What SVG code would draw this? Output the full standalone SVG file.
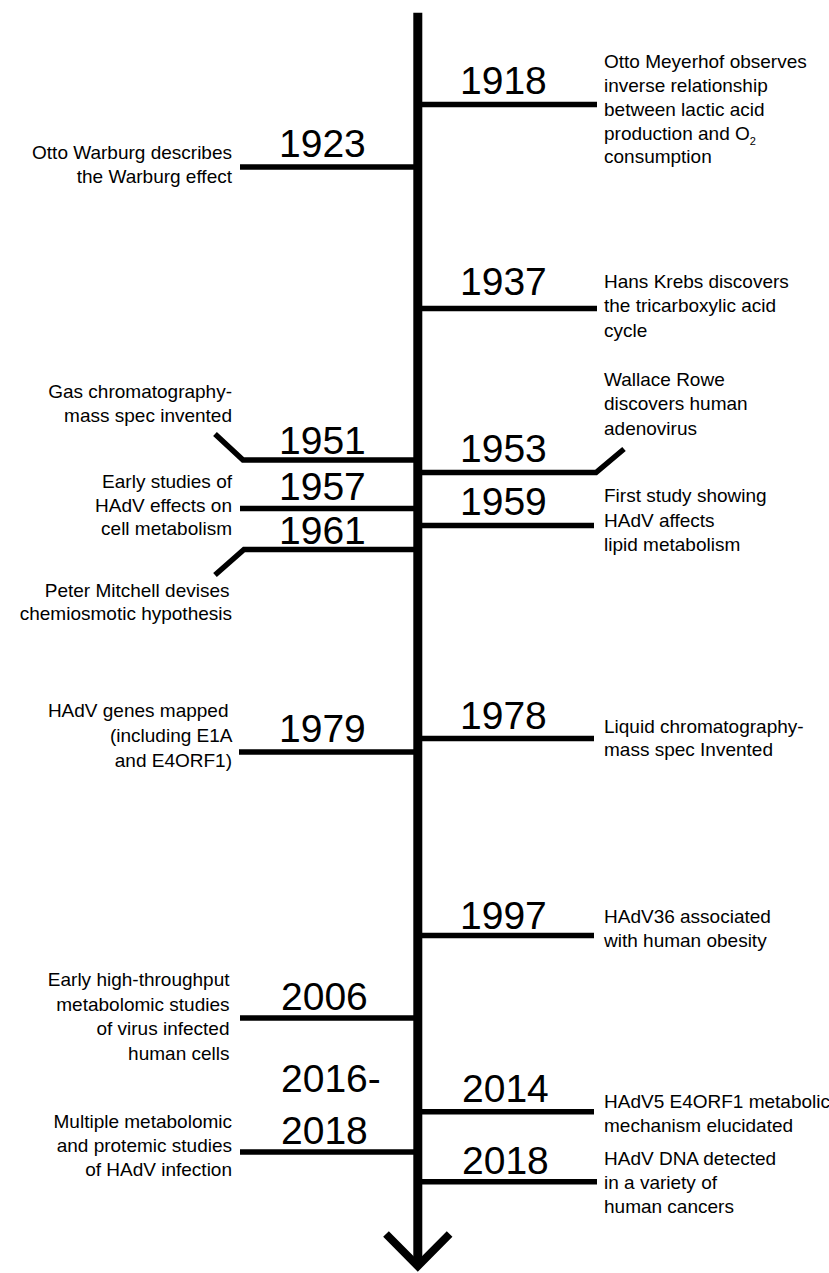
<svg xmlns="http://www.w3.org/2000/svg" width="829" height="1273" viewBox="0 0 829 1273">
<style>
.yr{font-family:"Liberation Sans",Arial,sans-serif;font-size:39px;fill:#000}
.lb{font-family:"Liberation Sans",Arial,sans-serif;font-size:19px;fill:#000}
.r{text-anchor:end}
.br{fill:none;stroke:#000;stroke-width:5.5;stroke-linejoin:miter}
.ax{fill:none;stroke:#000;stroke-width:9}
.ar{fill:none;stroke:#000;stroke-width:8;stroke-linejoin:miter;stroke-miterlimit:10}
</style>
<rect width="829" height="1273" fill="#fff"/>
<g id="connectors">
<line class="ax" x1="417.8" y1="12.7" x2="417.8" y2="1264"/>
<polyline class="ar" points="386,1234 417.8,1266 449.6,1234"/>
<path class="br" d="M418 104.5H597"/>
<path class="br" d="M240 167H418"/>
<path class="br" d="M418 308.5H597"/>
<path class="br" d="M215 434L243 460H418"/>
<path class="br" d="M418 472.5H596L624 449"/>
<path class="br" d="M240 508.5H418"/>
<path class="br" d="M418 525.5H594"/>
<path class="br" d="M215 575L244 549.5H418"/>
<path class="br" d="M418 738.5H594"/>
<path class="br" d="M239 752H418"/>
<path class="br" d="M418 935.5H594"/>
<path class="br" d="M240 1018H418"/>
<path class="br" d="M240 1152H418"/>
<path class="br" d="M418 1111.7H594"/>
<path class="br" d="M418 1181.7H597"/>
</g>
<g id="e1918">
<text class="yr" x="460" y="94">1918</text>
<text class="lb" x="604" y="68">Otto Meyerhof observes</text>
<text class="lb" x="604" y="92">inverse relationship</text>
<text class="lb" x="604" y="115.5">between lactic acid</text>
<text class="lb" x="604" y="139.5">production and O<tspan font-size="11" dy="5">2</tspan></text>
<text class="lb" x="604" y="163">consumption</text>
</g>
<g id="e1923">
<text class="yr" x="279" y="157">1923</text>
<text class="lb r" x="232" y="159">Otto Warburg describes</text>
<text class="lb r" x="232" y="183">the Warburg effect</text>
</g>
<g id="e1937">
<text class="yr" x="460" y="295">1937</text>
<text class="lb" x="604" y="287.5">Hans Krebs discovers</text>
<text class="lb" x="604" y="312">the tricarboxylic acid</text>
<text class="lb" x="604" y="336.5">cycle</text>
</g>
<g id="e1951">
<text class="yr" x="279" y="454">1951</text>
<text class="lb r" x="232" y="397.5">Gas chromatography-</text>
<text class="lb r" x="232" y="421.5">mass spec invented</text>
</g>
<g id="e1953">
<text class="yr" x="460" y="462">1953</text>
<text class="lb" x="604" y="385.5">Wallace Rowe</text>
<text class="lb" x="604" y="410">discovers human</text>
<text class="lb" x="604" y="434.5">adenovirus</text>
</g>
<g id="e1957">
<text class="yr" x="279" y="500">1957</text>
<text class="lb r" x="232" y="488">Early studies of</text>
<text class="lb r" x="232" y="511.5">HAdV effects on</text>
<text class="lb r" x="232" y="534.5">cell metabolism</text>
</g>
<g id="e1959">
<text class="yr" x="460" y="515">1959</text>
<text class="lb" x="604" y="502">First study showing</text>
<text class="lb" x="604" y="526.5">HAdV affects</text>
<text class="lb" x="604" y="551">lipid metabolism</text>
</g>
<g id="e1961">
<text class="yr" x="279" y="544">1961</text>
<text class="lb r" x="229.5" y="597">Peter Mitchell devises</text>
<text class="lb r" x="232" y="620">chemiosmotic hypothesis</text>
</g>
<g id="e1979">
<text class="yr" x="279" y="742">1979</text>
<text class="lb r" x="228.5" y="717">HAdV genes mapped</text>
<text class="lb r" x="232.5" y="742">(including E1A</text>
<text class="lb r" x="232" y="767">and E4ORF1)</text>
</g>
<g id="e1978">
<text class="yr" x="460" y="728.5">1978</text>
<text class="lb" x="604" y="733">Liquid chromatography-</text>
<text class="lb" x="604" y="756">mass spec Invented</text>
</g>
<g id="e1997">
<text class="yr" x="460" y="928.5">1997</text>
<text class="lb" x="604" y="923">HAdV36 associated</text>
<text class="lb" x="604" y="947">with human obesity</text>
</g>
<g id="e2006">
<text class="yr" x="281" y="1010">2006</text>
<text class="lb r" x="229.5" y="986">Early high-throughput</text>
<text class="lb r" x="229.5" y="1010.5">metabolomic studies</text>
<text class="lb r" x="229.5" y="1035">of virus infected</text>
<text class="lb r" x="229.5" y="1059.5">human cells</text>
</g>
<g id="e2016">
<text class="yr" x="281" y="1092">2016-</text>
<text class="yr" x="281" y="1143.5">2018</text>
<text class="lb r" x="232" y="1128">Multiple metabolomic</text>
<text class="lb r" x="232" y="1152">and protemic studies</text>
<text class="lb r" x="232" y="1176">of HAdV infection</text>
</g>
<g id="e2014">
<text class="yr" x="462" y="1102">2014</text>
<text class="lb" x="604" y="1108" font-size="18.4">HAdV5 E4ORF1 metabolic</text>
<text class="lb" x="604" y="1131.5">mechanism elucidated</text>
</g>
<g id="e2018">
<text class="yr" x="462" y="1173.5">2018</text>
<text class="lb" x="604" y="1164.5">HAdV DNA detected</text>
<text class="lb" x="604" y="1188.5">in a variety of</text>
<text class="lb" x="604" y="1212.5">human cancers</text>
</g>
</svg>
